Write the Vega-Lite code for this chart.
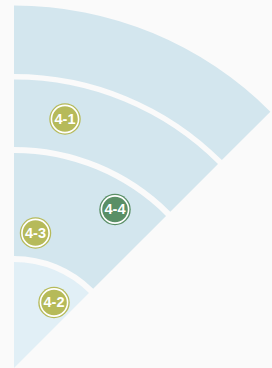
{
  "$schema": "https://vega.github.io/schema/vega-lite/v6.json",
  "width": 272,
  "height": 368,
  "autosize": {"type": "none"},
  "padding": 0,
  "background": "#fafafa",
  "config": {"view": {"stroke": null}},
  "datasets": {
    "rings": [
      {"ring": "outer", "r0": 294, "r1": 362.5, "a0": 0, "a1": 45, "cx": 0, "cy": 0},
      {"ring": "outer", "r0": 221, "r1": 288.5, "a0": 0, "a1": 45, "cx": 0, "cy": 0},
      {"ring": "outer", "r0": 112, "r1": 215, "a0": 0, "a1": 45, "cx": 0, "cy": 0},
      {"ring": "inner", "r0": 0, "r1": 106, "a0": 0, "a1": 45, "cx": 0, "cy": 0}
    ],
    "points": [
      {"label": "4-1", "x": 51, "y": 249, "group": "olive"},
      {"label": "4-4", "x": 101, "y": 158.5, "group": "green"},
      {"label": "4-3", "x": 21.5, "y": 135, "group": "olive"},
      {"label": "4-2", "x": 40, "y": 65.5, "group": "olive"}
    ]
  },
  "resolve": {"scale": {"color": "independent", "fill": "independent"}},
  "layer": [
    {
      "data": {"name": "rings"},
      "mark": {"type": "arc"},
      "encoding": {
        "x": {"field": "cx", "type": "quantitative", "scale": {"domain": [-14, 258], "nice": false, "zero": false}, "axis": null},
        "y": {"field": "cy", "type": "quantitative", "scale": {"domain": [0, 368], "nice": false, "zero": false}, "axis": null},
        "theta": {"field": "a0", "type": "quantitative", "stack": null, "scale": {"domain": [0, 360], "range": [0, 6.283185]}},
        "theta2": {"field": "a1"},
        "radius": {"field": "r0", "type": "quantitative", "scale": {"type": "linear", "domain": [0, 362.5], "range": [0, 362.5], "zero": true}},
        "radius2": {"field": "r1"},
        "color": {"field": "ring", "type": "nominal", "scale": {"domain": ["outer", "inner"], "range": ["#d3e6ee", "#e1eff6"]}, "legend": null}
      }
    },
    {
      "data": {"name": "points"},
      "mark": {"type": "circle", "size": 990, "opacity": 1},
      "encoding": {
        "x": {"field": "x", "type": "quantitative"},
        "y": {"field": "y", "type": "quantitative"},
        "fill": {"field": "group", "type": "nominal", "scale": {"domain": ["olive", "green"], "range": ["#b6ba5a", "#5a8f66"]}, "legend": null}
      }
    },
    {
      "data": {"name": "points"},
      "mark": {"type": "point", "shape": "circle", "size": 740, "filled": false, "stroke": "#ffffff", "strokeWidth": 1.6, "opacity": 1},
      "encoding": {
        "x": {"field": "x", "type": "quantitative"},
        "y": {"field": "y", "type": "quantitative"}
      }
    },
    {
      "data": {"name": "points"},
      "mark": {"type": "text", "font": "Liberation Sans", "fontSize": 14.5, "fontWeight": "bold", "color": "#ffffff", "baseline": "middle", "align": "center", "dy": 0.5},
      "encoding": {
        "x": {"field": "x", "type": "quantitative"},
        "y": {"field": "y", "type": "quantitative"},
        "text": {"field": "label", "type": "nominal"}
      }
    }
  ]
}
